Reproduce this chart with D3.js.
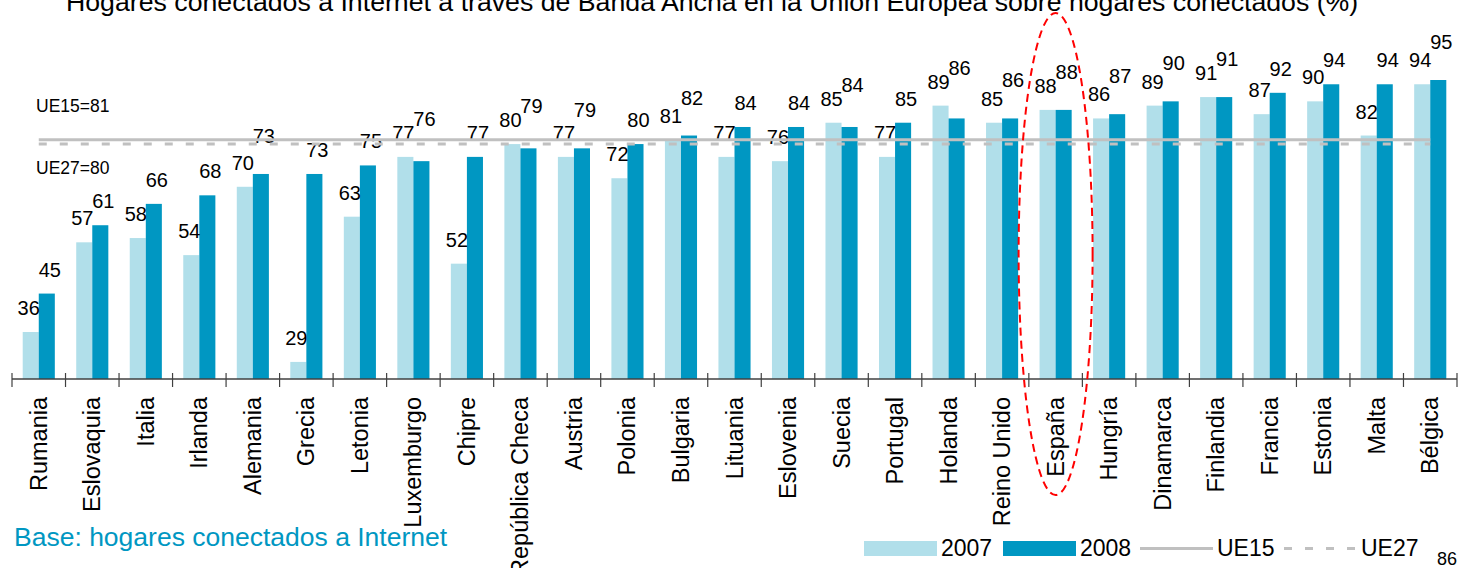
<!DOCTYPE html>
<html>
<head>
<meta charset="utf-8">
<script src="https://cdn.jsdelivr.net/npm/d3@7"></script>
<style>
  body { margin: 0; background: #fff; }
  svg { display: block; }
  text { font-family: "Liberation Sans", Arial, sans-serif; }
</style>
</head>
<body>
<div id="chart"></div>
<script>
const width = 1470,
  height = 568,
  margin = { top: 58, bottom: 189, left: 12, right: 13 };

// data
const countries = ["Rumania", "Eslovaquia", "Italia", "Irlanda", "Alemania", "Grecia", "Letonia",
  "Luxemburgo", "Chipre", "República Checa", "Austria", "Polonia", "Bulgaria", "Lituania",
  "Eslovenia", "Suecia", "Portugal", "Holanda", "Reino Unido", "España", "Hungría", "Dinamarca",
  "Finlandia", "Francia", "Estonia", "Malta", "Bélgica"];
const values2007 = [36, 57, 58, 54, 70, 29, 63, 77, 52, 80, 77, 72, 81, 77, 76, 85, 77, 89, 85, 88, 86, 89, 91, 87, 90, 82, 94];
const values2008 = [45, 61, 66, 68, 73, 73, 75, 76, 77, 79, 79, 80, 82, 84, 84, 84, 85, 86, 86, 88, 87, 90, 91, 92, 94, 94, 95];
const years = ["2007", "2008"];
const ue15 = 81;
const ue27 = 80;
const highlight = "España";
const title = "Hogares conectados a Internet  a través de Banda Ancha en la Unión Europea sobre hogares conectados (%)";
const baseNote = "Base: hogares conectados a Internet";
const pageNumber = "86";

const colors = { "2007": "#b1dfea", "2008": "#0097c2" };
const refGrey = "#c0c0c0";

const data = countries.map((c, i) => ({ country: c, "2007": values2007[i], "2008": values2008[i] }));

const svg = d3.select("#chart").append("svg")
  .attr("width", width)
  .attr("height", height);

// scales
const xScale = d3.scaleBand()
  .domain(countries)
  .range([margin.left, width - margin.right])
  .paddingInner(0.4)
  .paddingOuter(0.2);

const xInner = d3.scaleBand()
  .domain(years)
  .range([0, xScale.bandwidth()]);

const yScale = d3.scaleLinear()
  .domain([25, 95])
  .range([height - margin.bottom, 80]);

const baseY = yScale(25);

// title (cut at top of the slide)
svg.append("text")
  .attr("x", 66)
  .attr("y", 11)
  .attr("font-size", 26.7)
  .attr("fill", "#000")
  .text(title);

// bars
const groups = svg.selectAll(".group")
  .data(data)
  .join("g")
  .attr("class", "group")
  .attr("transform", d => `translate(${xScale(d.country)},0)`);

groups.selectAll("rect")
  .data(d => years.map(y => ({ year: y, value: d[y] })))
  .join("rect")
  .attr("x", d => xInner(d.year))
  .attr("y", d => yScale(d.value))
  .attr("width", xInner.bandwidth())
  .attr("height", d => baseY - yScale(d.value))
  .attr("fill", d => colors[d.year]);

// reference lines (from first to last category centre)
const xFirst = xScale(countries[0]) + xScale.bandwidth() / 2;
const xLast = xScale(countries[countries.length - 1]) + xScale.bandwidth() / 2;

svg.append("line")
  .attr("x1", xFirst).attr("x2", xLast)
  .attr("y1", yScale(ue15)).attr("y2", yScale(ue15))
  .attr("stroke", refGrey)
  .attr("stroke-width", 3);

svg.append("line")
  .attr("x1", xFirst).attr("x2", xLast)
  .attr("y1", yScale(ue27)).attr("y2", yScale(ue27))
  .attr("stroke", refGrey)
  .attr("stroke-width", 3)
  .attr("stroke-dasharray", "8,13");

svg.append("text")
  .attr("x", 36)
  .attr("y", yScale(ue15) - 28)
  .attr("font-size", 17.5)
  .text(`UE15=${ue15}`);

svg.append("text")
  .attr("x", 36)
  .attr("y", yScale(ue27) + 30)
  .attr("font-size", 17.5)
  .text(`UE27=${ue27}`);

// value labels; 2008 label lifted when it would collide with the 2007 one
groups.selectAll(".val")
  .data(d => years.map(y => ({ year: y, value: d[y], other: d[y === "2007" ? "2008" : "2007"] })))
  .join("text")
  .attr("class", "val")
  .attr("x", d => xInner(d.year) + xInner.bandwidth() / 2 + (d.year === "2007" ? -2 : 3))
  .attr("y", d => {
    let y = yScale(d.value) - 17;
    if (d.year === "2008" && Math.abs(yScale(d.other) - yScale(d.value)) < 14) {
      y = Math.min(yScale(d.value), yScale(d.other)) - 31;
    }
    return y;
  })
  .attr("text-anchor", "middle")
  .attr("font-size", 20)
  .text(d => d.value);

// x axis: line with ticks at band boundaries
const step = xScale.step();
svg.append("line")
  .attr("x1", margin.left).attr("x2", width - margin.right)
  .attr("y1", baseY).attr("y2", baseY)
  .attr("stroke", "#404040")
  .attr("stroke-width", 1.5);

svg.selectAll(".tick")
  .data(d3.range(countries.length + 1))
  .join("line")
  .attr("class", "tick")
  .attr("x1", i => margin.left + i * step)
  .attr("x2", i => margin.left + i * step)
  .attr("y1", baseY - 6)
  .attr("y2", baseY + 8)
  .attr("stroke", "#404040")
  .attr("stroke-width", 1.2);

svg.selectAll(".cat")
  .data(countries)
  .join("text")
  .attr("class", "cat")
  .attr("transform", d => `translate(${xScale(d) + xScale.bandwidth() / 2 + 8},${baseY + 18}) rotate(-90)`)
  .attr("text-anchor", "end")
  .attr("font-size", 23.5)
  .text(d => d);

// highlight ellipse around España
svg.append("ellipse")
  .attr("cx", xScale(highlight) + xScale.bandwidth() / 2)
  .attr("cy", 254)
  .attr("rx", 37)
  .attr("ry", 241)
  .attr("fill", "none")
  .attr("stroke", "#ff0000")
  .attr("stroke-width", 2)
  .attr("stroke-dasharray", "8,5");

// base note
svg.append("text")
  .attr("x", 14)
  .attr("y", 546)
  .attr("font-size", 26.5)
  .attr("fill", "#0097c2")
  .text(baseNote);

// legend
const legend = svg.append("g").attr("transform", "translate(864,541)");
const legendItems = [
  { label: "2007", type: "rect", color: colors["2007"], x: 0 },
  { label: "2008", type: "rect", color: colors["2008"], x: 139 },
  { label: "UE15", type: "line", dash: null, x: 276 },
  { label: "UE27", type: "line", dash: "8,13", x: 420 }
];
legendItems.forEach(it => {
  const g = legend.append("g").attr("transform", `translate(${it.x},0)`);
  if (it.type === "rect") {
    g.append("rect").attr("width", 73).attr("height", 15).attr("fill", it.color);
  } else {
    g.append("line")
      .attr("x1", 0).attr("x2", 73)
      .attr("y1", 7.5).attr("y2", 7.5)
      .attr("stroke", refGrey)
      .attr("stroke-width", 3)
      .attr("stroke-dasharray", it.dash);
  }
  g.append("text")
    .attr("x", 77)
    .attr("y", 15)
    .attr("font-size", 23)
    .text(it.label);
});

svg.append("text")
  .attr("x", 1437)
  .attr("y", 565)
  .attr("font-size", 18)
  .text(pageNumber);
</script>
</body>
</html>
